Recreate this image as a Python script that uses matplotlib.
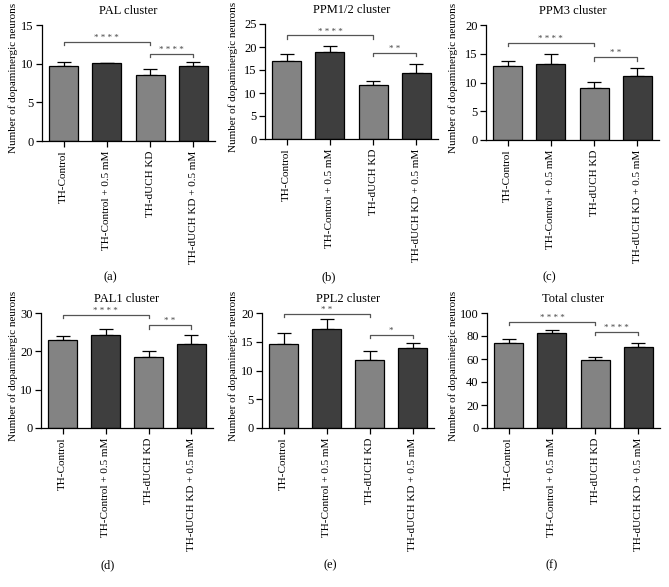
import numpy as np
import matplotlib.pyplot as plt

plt.rcParams['font.family'] = ['Liberation Serif', 'DejaVu Serif']

groups = ['TH-Control', 'TH-Control + 0.5 mM', 'TH-dUCH KD', 'TH-dUCH KD + 0.5 mM']
titles = ['PAL cluster', 'PPM1/2 cluster', 'PPM3 cluster',
          'PAL1 cluster', 'PPL2 cluster', 'Total cluster']
panel_tags = ['(a)', '(b)', '(c)', '(d)', '(e)', '(f)']

# means and upper error bar lengths
means = [
    [9.75, 10.03, 8.5, 9.75],
    [16.9, 18.85, 11.65, 14.25],
    [12.85, 13.3, 9.05, 11.05],
    [22.9, 24.2, 18.6, 21.8],
    [14.6, 17.2, 11.8, 14.0],
    [74.0, 82.3, 59.3, 70.3],
]
errs = [
    [0.42, 0.05, 0.78, 0.42],
    [1.5, 1.3, 0.95, 2.0],
    [0.93, 1.6, 0.97, 1.4],
    [1.0, 1.5, 1.55, 2.5],
    [1.85, 1.7, 1.6, 0.7],
    [3.7, 3.2, 2.6, 3.7],
]
ymax = [15, 25, 20, 30, 20, 100]
ystep = [5, 5, 5, 10, 5, 20]

# significance brackets: (height of bar 0-2 bracket, height of bar 2-3 bracket)
sig_heights = [
    (12.8, 11.3),
    (22.5, 18.7),
    (16.9, 14.4),
    (29.5, 26.8),
    (19.9, 16.2),
    (92.2, 83.5),
]
sig_marks = [
    ('****', '****'),
    ('****', '**'),
    ('****', '**'),
    ('****', '**'),
    ('**', '*'),
    ('****', '****'),
]

bar_colors = ['#838383', '#3e3e3e', '#838383', '#3e3e3e']

W, H = 669, 587
fig = plt.figure(figsize=(W / 100, H / 100), dpi=100)

# axes boxes in pixels: left, top, width, bottom
boxes = [
    (42, 25, 173, 141),
    (265, 24, 173, 139),
    (486, 25, 173, 140),
    (41, 313, 172, 428),
    (262, 313, 172, 428),
    (487, 313, 173, 428),
]
ylab_x = [13, 233, 453, 13, 233, 453]
tag_x = [110, 329, 549, 108, 330, 552]
tag_y = [277, 277, 277, 565, 565, 565]

fs = 8
x = np.arange(4)
for i in range(6):
    l, t, w, b = boxes[i]
    ax = fig.add_axes([l / W, 1 - b / H, w / W, (b - t) / H])
    ax.bar(x, means[i], width=0.67, color=bar_colors, edgecolor='black',
           linewidth=0.9, zorder=2)
    ax.errorbar(x, means[i], yerr=[np.zeros(4), errs[i]], fmt='none',
                ecolor='black', elinewidth=0.9, capsize=5, capthick=0.9, zorder=1)
    ax.set_xlim(-0.5, 3.5)
    ax.set_ylim(0, ymax[i])
    ax.set_yticks(np.arange(0, ymax[i] + 1, ystep[i]))
    ax.set_xticks(x)
    ax.set_xticklabels(groups, rotation=90, fontsize=fs)
    ax.tick_params(axis='y', labelsize=fs + 1, length=4, width=0.9, pad=2)
    ax.tick_params(axis='x', length=4, width=0.9, pad=3)
    for s in ['top', 'right']:
        ax.spines[s].set_visible(False)
    for s in ['left', 'bottom']:
        ax.spines[s].set_linewidth(0.9)
    ax.set_title(titles[i], fontsize=fs + 1, pad=8)

    # significance brackets
    drop = ymax[i] * 0.03
    pairs = [(0, 2), (2, 3)]
    for (x0, x1), h, mark in zip(pairs, sig_heights[i], sig_marks[i]):
        ax.plot([x0, x0, x1, x1], [h - drop, h, h, h - drop], color='#555555',
                lw=0.9, clip_on=False)
        ax.text((x0 + x1) / 2, h, ' '.join(mark), ha='center', va='bottom',
                fontsize=6.5, color='#444444', clip_on=False)

    fig.text(ylab_x[i] / W, 1 - ((t + b) / 2 - 5) / H, 'Number of dopaminergic neurons',
             rotation=90, ha='center', va='center', fontsize=fs)
    fig.text(tag_x[i] / W, 1 - tag_y[i] / H, panel_tags[i], ha='center', va='center',
             fontsize=fs + 1)

fig.savefig('out.png', dpi=100)
